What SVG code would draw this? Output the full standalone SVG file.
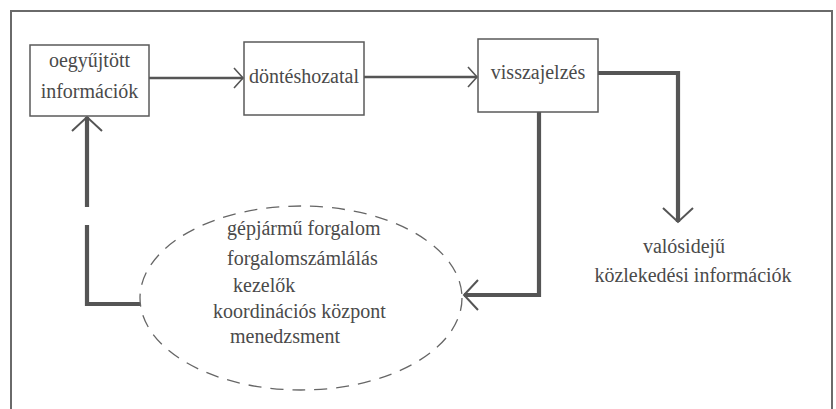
<svg xmlns="http://www.w3.org/2000/svg" width="836" height="409" viewBox="0 0 836 409">
  <style>
    .box { fill: #ffffff; stroke: #5a5a5a; stroke-width: 1.5; }
    .lbl { font-family: 'Liberation Serif', 'Times New Roman', serif; font-size: 20px; fill: #4a4a4a; }
    .thin { fill: none; stroke: #555555; stroke-width: 2.6; }
    .thick { fill: none; stroke: #555555; stroke-width: 4.2; }
    .cloud { fill: none; stroke: #666666; stroke-width: 1.3; stroke-dasharray: 13 9; }
  </style>
  <defs>
    <!-- open chevron heads, sized in user units -->
    <marker id="headSmall" markerUnits="userSpaceOnUse" viewBox="0 0 12 24" refX="10" refY="12" markerWidth="12" markerHeight="24" orient="auto">
      <path d="M1,2 L10,12 L1,22" fill="none" stroke="#555555" stroke-width="1.6"/>
    </marker>
    <marker id="headLarge" markerUnits="userSpaceOnUse" viewBox="0 0 18 34" refX="16" refY="17" markerWidth="18" markerHeight="34" orient="auto">
      <path d="M2,2 L16,17 L2,32" fill="none" stroke="#555555" stroke-width="2"/>
    </marker>
  </defs>

  <rect width="836" height="409" fill="#ffffff"/>

  <!-- outer frame -->
  <path d="M11,420 L11,11 L832,11 L832,420" fill="none" stroke="#6a6a6a" stroke-width="2"/>

  <!-- connectors -->
  <g id="connectors">
    <path class="thin" d="M149,78 L243,78" marker-end="url(#headSmall)"/>
    <path class="thin" d="M364,77 L477,77" marker-end="url(#headSmall)"/>
    <path class="thick" d="M598,73 L678,73 L678,222" marker-end="url(#headLarge)"/>
    <path class="thick" d="M539,112 L539,295 L464,295" marker-end="url(#headLarge)"/>
    <path class="thick" d="M140,304 L87,304 L87,225"/>
    <path class="thick" d="M87,207 L87,117" marker-end="url(#headLarge)"/>
  </g>

  <g id="node-gyujtott">
    <rect class="box" x="30" y="45" width="119" height="71"/>
    <text class="lbl" x="89.5" y="67" text-anchor="middle">oegyűjtött</text>
    <text class="lbl" x="89.5" y="98" text-anchor="middle">információk</text>
  </g>

  <g id="node-dontes">
    <rect class="box" x="244" y="42" width="120" height="73"/>
    <text class="lbl" x="304" y="83" text-anchor="middle">döntéshozatal</text>
  </g>

  <g id="node-visszajelzes">
    <rect class="box" x="478" y="39" width="120" height="73"/>
    <text class="lbl" x="538" y="79" text-anchor="middle">visszajelzés</text>
  </g>

  <g id="node-szereplok">
    <ellipse class="cloud" cx="301" cy="298" rx="161" ry="92"/>
    <text class="lbl" x="227" y="235">gépjármű forgalom</text>
    <text class="lbl" x="227" y="265">forgalomszámlálás</text>
    <text class="lbl" x="233" y="292">kezelők</text>
    <text class="lbl" x="213" y="318">koordinációs központ</text>
    <text class="lbl" x="230" y="343">menedzsment</text>
  </g>

  <g id="node-valosideju">
    <text class="lbl" x="684" y="253" text-anchor="middle">valósidejű</text>
    <text class="lbl" x="693" y="282" text-anchor="middle">közlekedési információk</text>
  </g>
</svg>
